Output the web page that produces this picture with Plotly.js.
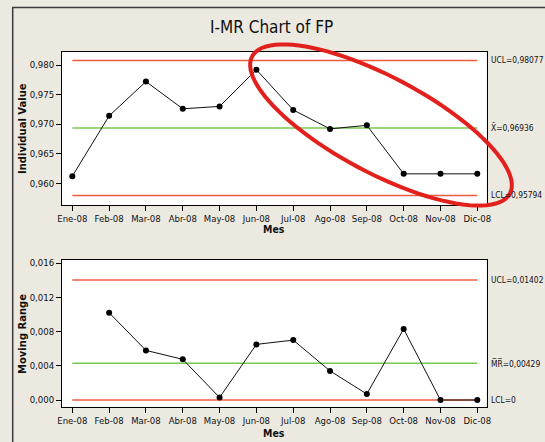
<!DOCTYPE html>
<html>
<head>
<meta charset="utf-8">
<script src="https://cdn.plot.ly/plotly-3.0.1.min.js"></script>
<style>html,body{margin:0;padding:0;background:#ece9e1;}#chart{width:545px;height:442px;}</style>
</head>
<body>
<div id="chart"></div>
<script>
// ---- data ----
const months = ['Ene-08','Feb-08','Mar-08','Abr-08','May-08','Jun-08','Jul-08','Ago-08','Sep-08','Oct-08','Nov-08','Dic-08'];
const individualValues = [0.9612, 0.9714, 0.9772, 0.9726, 0.9730, 0.9792, 0.9724, 0.9692, 0.9698, 0.9616, 0.9616, 0.9616];
const movingRanges = [null, 0.0102, 0.0058, 0.00475, 0.0003, 0.0065, 0.0070, 0.0034, 0.0007, 0.0083, 0, 0];
const iUCL = 0.98077, iMean = 0.96936, iLCL = 0.95794;
const mrUCL = 0.01402, mrMean = 0.00429, mrLCL = 0;
const iLabels = ['UCL=0,98077', 'X\u0304=0,96936', 'LCL=0,95794'];
const mrLabels = ['UCL=0,01402', 'M\u0305R\u0305=0,00429', 'LCL=0'];
const iTicks = [0.960, 0.965, 0.970, 0.975, 0.980];
const mrTicks = [0.000, 0.004, 0.008, 0.012, 0.016];

// ---- styling ----
const W = 545, H = 442;
const RED = '#ef5b40', GREEN = '#78c850';
const narrow = 'DejaVu Sans Condensed, Liberation Sans Narrow, Arial Narrow, sans-serif';
const px = v => v / W, py = v => 1 - v / H;
const xDom = [px(62), px(486.5)];

function limitTrace(val, color, xa, ya) {
  return {x: [months[0], months[months.length - 1]], y: [val, val], mode: 'lines',
    line: {color: color, width: 1.5}, xaxis: xa, yaxis: ya, hoverinfo: 'skip', showlegend: false};
}

const traces = [
  limitTrace(iUCL, RED, 'x', 'y'), limitTrace(iMean, GREEN, 'x', 'y'), limitTrace(iLCL, RED, 'x', 'y'),
  {x: months, y: individualValues, mode: 'lines+markers', line: {color: '#111', width: 1},
   marker: {color: '#000', size: 6}, xaxis: 'x', yaxis: 'y', showlegend: false},
  limitTrace(mrUCL, RED, 'x2', 'y2'), limitTrace(mrMean, GREEN, 'x2', 'y2'), limitTrace(mrLCL, RED, 'x2', 'y2'),
  {x: months, y: movingRanges, mode: 'lines+markers', line: {color: '#111', width: 1},
   marker: {color: '#000', size: 6}, xaxis: 'x2', yaxis: 'y2', showlegend: false, connectgaps: false}
];

const axisCommon = {showgrid: false, zeroline: false, showline: true, mirror: true, linecolor: '#000', linewidth: 1,
  ticks: 'outside', ticklen: 5, tickcolor: '#000', tickfont: {family: narrow, size: 9.5, color: '#111'}};

const annotations = [];
[[iUCL, iMean, iLCL], [mrUCL, mrMean, mrLCL]].forEach((vals, k) => {
  const labels = k === 0 ? iLabels : mrLabels;
  vals.forEach((v, i) => annotations.push({xref: 'paper', x: px(490), xanchor: 'left', yref: k === 0 ? 'y' : 'y2', y: v,
    yanchor: 'middle', text: labels[i], showarrow: false, borderpad: 0,
    font: {family: narrow, size: 8.4, color: '#111'}}));
});
annotations.push(
  {xref: 'paper', yref: 'paper', x: px(271), y: py(27), text: 'I-MR Chart of FP', showarrow: false,
   font: {family: narrow, size: 17, color: '#111'}, xanchor: 'center', yanchor: 'middle'},
  {xref: 'paper', yref: 'paper', x: px(22), y: py(129), text: '<b>Individual Value</b>', textangle: -90, showarrow: false,
   xanchor: 'center', yanchor: 'middle', font: {family: 'DejaVu Sans, sans-serif', size: 10, color: '#111'}},
  {xref: 'paper', yref: 'paper', x: px(22), y: py(334), text: '<b>Moving Range</b>', textangle: -90, showarrow: false,
   xanchor: 'center', yanchor: 'middle', font: {family: 'DejaVu Sans, sans-serif', size: 10, color: '#111'}},
  {xref: 'paper', yref: 'paper', x: px(274), y: py(229), text: '<b>Mes</b>', showarrow: false,
   xanchor: 'center', yanchor: 'middle', font: {family: narrow, size: 10.5, color: '#111'}},
  {xref: 'paper', yref: 'paper', x: px(274), y: py(433), text: '<b>Mes</b>', showarrow: false,
   xanchor: 'center', yanchor: 'middle', font: {family: narrow, size: 10.5, color: '#111'}}
);

// hand-drawn red ellipse (decoration)
const ec = [381, 125], ea = 146, eb = 48, ang = 28 * Math.PI / 180;
let path = '';
for (let i = 0; i <= 96; i++) {
  const t = 2 * Math.PI * i / 96;
  const dx = ea * Math.cos(t), dy = eb * Math.sin(t);
  const X = ec[0] + dx * Math.cos(ang) - dy * Math.sin(ang);
  const Y = ec[1] + dx * Math.sin(ang) + dy * Math.cos(ang);
  path += (i === 0 ? 'M' : 'L') + px(X).toFixed(5) + ',' + py(Y).toFixed(5);
}
path += 'Z';

const xCommon = {type: 'category', categoryorder: 'array', categoryarray: months, range: [-0.28, 11.25], domain: xDom};

const layout = {
  width: W, height: H, margin: {l: 0, r: 0, t: 0, b: 0},
  paper_bgcolor: '#ece9e1', plot_bgcolor: '#ffffff', separators: ',.', showlegend: false,
  xaxis: Object.assign({}, axisCommon, xCommon, {anchor: 'y'}),
  yaxis: Object.assign({}, axisCommon, {domain: [py(205), py(52)], anchor: 'x', range: [0.95633, 0.9822],
    tickvals: iTicks, tickformat: '.3f'}),
  xaxis2: Object.assign({}, axisCommon, xCommon, {anchor: 'y2'}),
  yaxis2: Object.assign({}, axisCommon, {domain: [py(406.7), py(260)], anchor: 'x2', range: [-0.00078, 0.01636],
    tickvals: mrTicks, tickformat: '.3f'}),
  annotations: annotations,
  shapes: [
    {type: 'rect', xref: 'paper', yref: 'paper', x0: px(12.7), x1: 1.05, y0: -0.05, y1: py(7.5),
     line: {color: '#3a3a3a', width: 1.5}, fillcolor: 'rgba(0,0,0,0)', layer: 'below'},
    {type: 'path', xref: 'paper', yref: 'paper', path: path, line: {color: '#e3211c', width: 4}, layer: 'above'}
  ]
};

Plotly.newPlot('chart', traces, layout, {displayModeBar: false, staticPlot: true});
</script>
</body>
</html>
